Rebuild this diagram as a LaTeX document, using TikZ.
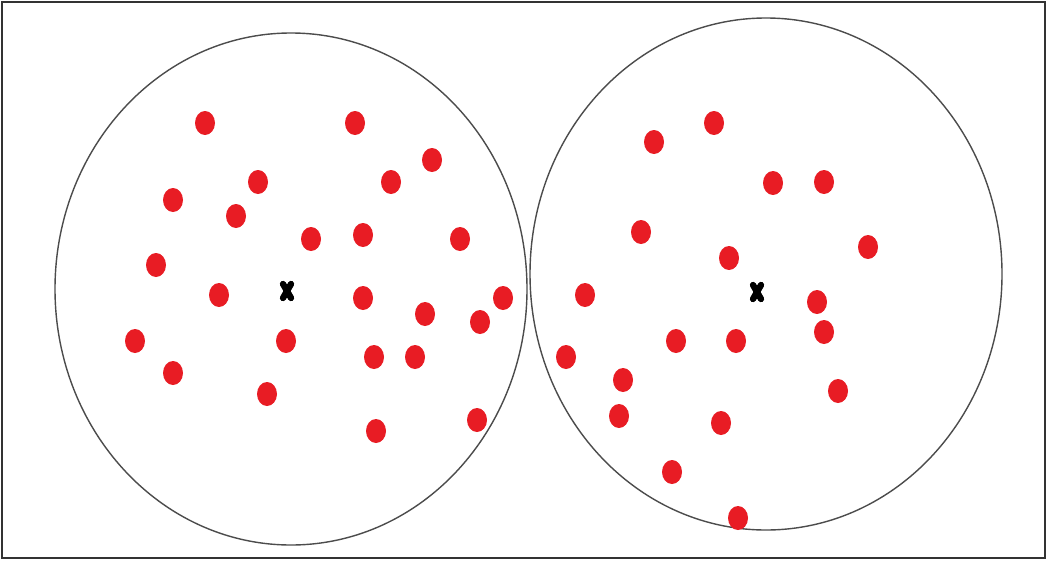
\documentclass[tikz,border=0pt]{standalone}
\usepackage{tikz}
\usepackage{xcolor}

\definecolor{dotred}{RGB}{232,28,36}

\begin{document}
\begin{tikzpicture}[
    x=0.02cm, y=-0.02cm,
    frame/.style={draw=black!80, line width=0.6pt},
    cluster/.style={draw=black!70, line width=0.8pt},
    dot/.style={fill=dotred},
    centroid/.style={black, line width=3.6pt, line cap=round}
]

\useasboundingbox (0,0) rectangle (1047,561);

% Outer frame
\draw[frame] (2,2) rectangle (1045,558);

% Cluster outlines
\draw[cluster] (291,289) ellipse (236 and 256);
\draw[cluster] (766,274) ellipse (236 and 256);

% Left cluster points
\foreach \px/\py in {205/123, 355/123, 432/160, 258/182, 391/182, 173/200,
    236/216, 311/239, 363/235, 460/239, 156/265, 219/295, 363/298,
    503/298, 425/314, 480/322, 135/341, 286/341, 374/357, 415/357,
    173/373, 267/394, 376/431, 477/420}
    \fill[dot] (\px,\py) ellipse (0.2cm and 0.24cm);

% Right cluster points
\foreach \px/\py in {654/142, 714/123, 773/183, 824/182, 641/232, 868/247,
    729/258, 585/295, 817/302, 824/332, 676/341, 736/341, 566/357,
    623/380, 838/391, 619/416, 721/423, 672/472, 738/518}
    \fill[dot] (\px,\py) ellipse (0.2cm and 0.24cm);

% Centroids
\foreach \cx/\cy in {287/291, 757/292} {
    \draw[centroid] (\cx-4,\cy-7) -- (\cx+4,\cy+7);
    \draw[centroid] (\cx+4,\cy-7) -- (\cx-4,\cy+7);
}

\end{tikzpicture}
\end{document}
